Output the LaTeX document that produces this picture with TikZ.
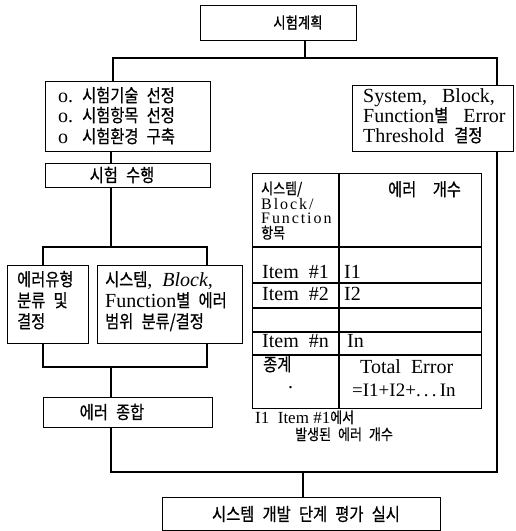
\documentclass[tikz,border=0pt]{standalone}
\usepackage{fontspec}
\setmainfont{Liberation Serif}
\newfontfamily\kr{Noto Sans CJK KR}[Scale=0.9, FakeStretch=0.85, WordSpace=2.4, FakeBold=0.6]
\newfontfamily\lsp{Liberation Serif}[LetterSpace=12]
\newcommand\K[1]{{\kr #1}}
\tikzset{
  box/.style={draw, line width=1.2pt, inner sep=0pt, anchor=north west},
  conn/.style={line width=1.2pt},
  txt/.style={inner sep=0pt, anchor=base west, font=\fontsize{20}{24}\selectfont},
  hdr/.style={inner sep=0pt, anchor=base west, font=\lsp\fontsize{16}{20}\selectfont},
  foot/.style={inner sep=0pt, anchor=base west, font=\fontsize{17}{20}\selectfont},
  ktxt/.style={inner sep=0pt, anchor=center, font=\kr\fontsize{20}{24}\selectfont},
}
\begin{document}
\begin{tikzpicture}[x=1pt,y=-1pt]
\useasboundingbox[fill=white] (0,0) rectangle (516,531);
% boxes
\node[box, minimum width=156pt, minimum height=35pt] (plan) at (200,5) {};
\node[box, minimum width=165pt, minimum height=70pt] (prep) at (45,81) {};
\node[box, minimum width=161pt, minimum height=66pt] (thresh) at (352,85) {};
\node[box, minimum width=165pt, minimum height=24pt] (exec) at (45,163) {};
\node[box, minimum width=81pt, minimum height=78pt] (etype) at (7,265) {};
\node[box, minimum width=145pt, minimum height=78pt] (scope) at (97,265) {};
\node[box, minimum width=169pt, minimum height=30pt] (sum) at (43,397) {};
\node[box, minimum width=278pt, minimum height=33pt] (final) at (162,497) {};
\node[box, minimum width=229pt, minimum height=235pt] (tbl) at (252,173) {};
% connectors
\coordinate (b1l) at (113,58);
\coordinate (b1m) at (305,58);
\coordinate (b1r) at (497,58);
\draw[conn] (plan.south -| b1m) -- (b1m);
\draw[conn] (prep.north -| b1l) |- (b1r) -- (thresh.north -| b1r);
\coordinate (lx) at (111,0);
\draw[conn] (prep.south -| lx) -- (exec.north -| lx);
\coordinate (b2) at (111,247);
\coordinate (b2l) at (43,247);
\coordinate (b2r) at (207,247);
\draw[conn] (exec.south -| lx) -- (b2);
\draw[conn] (etype.north -| b2l) |- (b2r) -- (scope.north -| b2r);
\coordinate (b3) at (111,367);
\coordinate (b3l) at (43,367);
\coordinate (b3r) at (207,367);
\draw[conn] (etype.south -| b3l) |- (b3r) -- (scope.south -| b3r);
\draw[conn] (b3) -- (sum.north -| b3);
\coordinate (c1) at (111,472);
\coordinate (c2) at (497,472);
\coordinate (c3) at (303,472);
\draw[conn] (sum.south -| c1) |- (c2) -- (thresh.south -| c2);
\draw[conn] (c3) -- (final.north -| c3);
% table grid
\draw[conn] (339,173) -- (339,408);
\foreach \yy in {247,283,308,332,355} \draw[conn] (252,\yy) -- (481,\yy);
% texts
\node[ktxt, font=\kr\fontsize{17.5}{22}\selectfont] (tplan) at (298,22.5) {시험계획};
\node[txt] (p1) at (58,102) {o.\hspace{9pt}\K{시험기술 선정}};
\node[txt] (p2) at (58,122) {o.\hspace{9pt}\K{시험항목 선정}};
\node[txt] (p3) at (58,143) {o\hspace{14pt}\K{시험환경 구축}};
\node[txt] (s1) at (363,102) {System,\ \ \ Block,};
\node[txt] (s2) at (363,122) {Function\K{별}\ \ \ Error};
\node[txt] (s3) at (363,142) {Threshold\ \ \K{결정}};
\node[ktxt] (texec) at (122,175) {시험 수행};
\node[txt] (e1) at (17,286) {\K{에러유형}};
\node[txt] (e2) at (17,307) {\K{분류 및}};
\node[txt] (e3) at (17,328) {\K{결정}};
\node[txt] (g1) at (105,286) {\K{시스템},\ \ \textit{Block,}};
\node[txt] (g2) at (105,307) {Function\K{별 에러}};
\node[txt] (g3) at (105,328) {\K{범위 분류/결정}};
\node[ktxt] (tsum) at (112,412) {에러 종합};
\node[ktxt] (tfinal) at (306,514) {시스템 개발 단계 평가 실시};
% table texts
\node[hdr, font=\fontsize{17}{20}\selectfont] (h1) at (261,194) {\K{시스템/}};
\node[hdr] (h2) at (261,209) {Block/};
\node[hdr] (h3) at (261,223.5) {Function};
\node[hdr, font=\fontsize{17}{20}\selectfont] (h4) at (261,238.5) {\K{항목}};
\node[txt] (h5) at (388,196) {\K{에러\ \ 개수}};
\node[txt] (r1) at (262,278) {Item\ \ \#1};
\node[txt] (r1v) at (344,278) {I1};
\node[txt] (r2) at (262,300) {Item\ \ \#2};
\node[txt] (r2v) at (344,300) {I2};
\node[txt] (rn) at (262,347) {Item\ \ \#n};
\node[txt] (rnv) at (347,347) {In};
\node[txt] (rt) at (263,371) {\K{종계}};
\node[txt] (rtv1) at (360,373) {Total\ \ Error};
\node[txt, font=\fontsize{19}{22}\selectfont] (rtv2) at (352,396) {=I1+I2+.\,.\,.\,In};
\node[txt] (dot) at (288,388) {.};
\node[foot] (f1) at (255,423) {I1\ \ Item \#1\K{에서}};
\node[foot] (f2) at (295,440) {\K{발생된 에러 개수}};
\end{tikzpicture}
\end{document}
